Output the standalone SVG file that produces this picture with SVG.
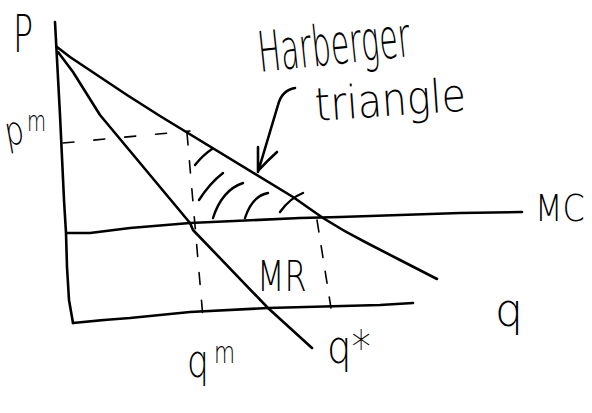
<svg xmlns="http://www.w3.org/2000/svg" width="592" height="413" viewBox="0 0 592 413">
<style>
.ln{fill:none;stroke:#000;stroke-width:2.6;stroke-linecap:round;stroke-linejoin:round}
.dash{fill:none;stroke:#000;stroke-width:1.6;stroke-linecap:round}
.hatch{fill:none;stroke:#000;stroke-width:2.4;stroke-linecap:round}
.t{font-family:"DejaVu Sans","Liberation Sans",sans-serif;font-weight:200;fill:#000}
</style>
<rect width="592" height="413" fill="#fff"/>
<g id="axes">
<path class="ln" d="M55,22 L60,115 L64,200 L66,233 L67,267 L69,300 L73,323"/>
<path class="ln" d="M73,323 Q100,320 130,318 L190,312 L268,308 L380,305 L413,303"/>
</g>
<g id="connectors">
<path id="demand" class="ln" d="M57,47 L70,57 Q85,67 97,75 L127,95 L160,116 L293,197 L323,218 Q345,232 367,243 L400,260 L437,279"/>
<path id="mr" class="ln" d="M58,52 L73,72 L100,115 L160,187 L190,223 L193,230 L268,308 L312,348"/>
<path id="mc" class="ln" d="M67,233 L90,233 L130,228 L190,223 L300,218 L340,217 L460,213 L522,212"/>
<path id="pm-dash" class="dash" d="M63,143 L190,131" stroke-dasharray="11 20"/>
<path id="qm-dash" class="dash" d="M187,133 L203,318" stroke-dasharray="12 16"/>
<path id="qstar-dash" class="dash" d="M317,220 L331,308" stroke-dasharray="12 14"/>
<path id="label-arrow" class="ln" d="M295,88 Q282,90 278,105 L258,172 M258,147 L258,172 M277,152 Q268,160 258,171"/>
</g>
<g id="harberger-triangle">
<path class="hatch" d="M195,165 Q203,155 212,149"/>
<path class="hatch" d="M199,200 Q210,183 223,173"/>
<path class="hatch" d="M213,218 Q222,190 243,183"/>
<path class="hatch" d="M245,218 Q252,196 268,193"/>
<path class="hatch" d="M280,212 Q290,198 303,193"/>
</g>
<g id="labels">
<text class="t" font-size="52" transform="translate(13 52) scale(0.64 1)">P</text>
<text class="t" font-size="40" transform="translate(7 146) rotate(-10) scale(0.75 1)">p</text>
<text class="t" font-size="28" transform="translate(27 131) scale(0.7 1)">m</text>
<text class="t" font-size="46" transform="translate(187 377) scale(0.75 1)">q</text>
<text class="t" font-size="30" transform="translate(214 363) scale(0.72 1)">m</text>
<text class="t" font-size="46" transform="translate(327 363) scale(0.84 1)">q*</text>
<text class="t" font-size="42" transform="translate(257 291) scale(0.76 1)">MR</text>
<text class="t" font-size="38" transform="translate(535 221) scale(0.84 1)">MC</text>
<text class="t" font-size="46" transform="translate(495 326) scale(0.96 1)">q</text>
<text class="t" font-size="56" transform="translate(260 72) rotate(-6) scale(0.54 1)">Harberger</text>
<text class="t" font-size="46" transform="translate(316 121) rotate(-4) scale(0.86 1)">triangle</text>
</g>
</svg>
